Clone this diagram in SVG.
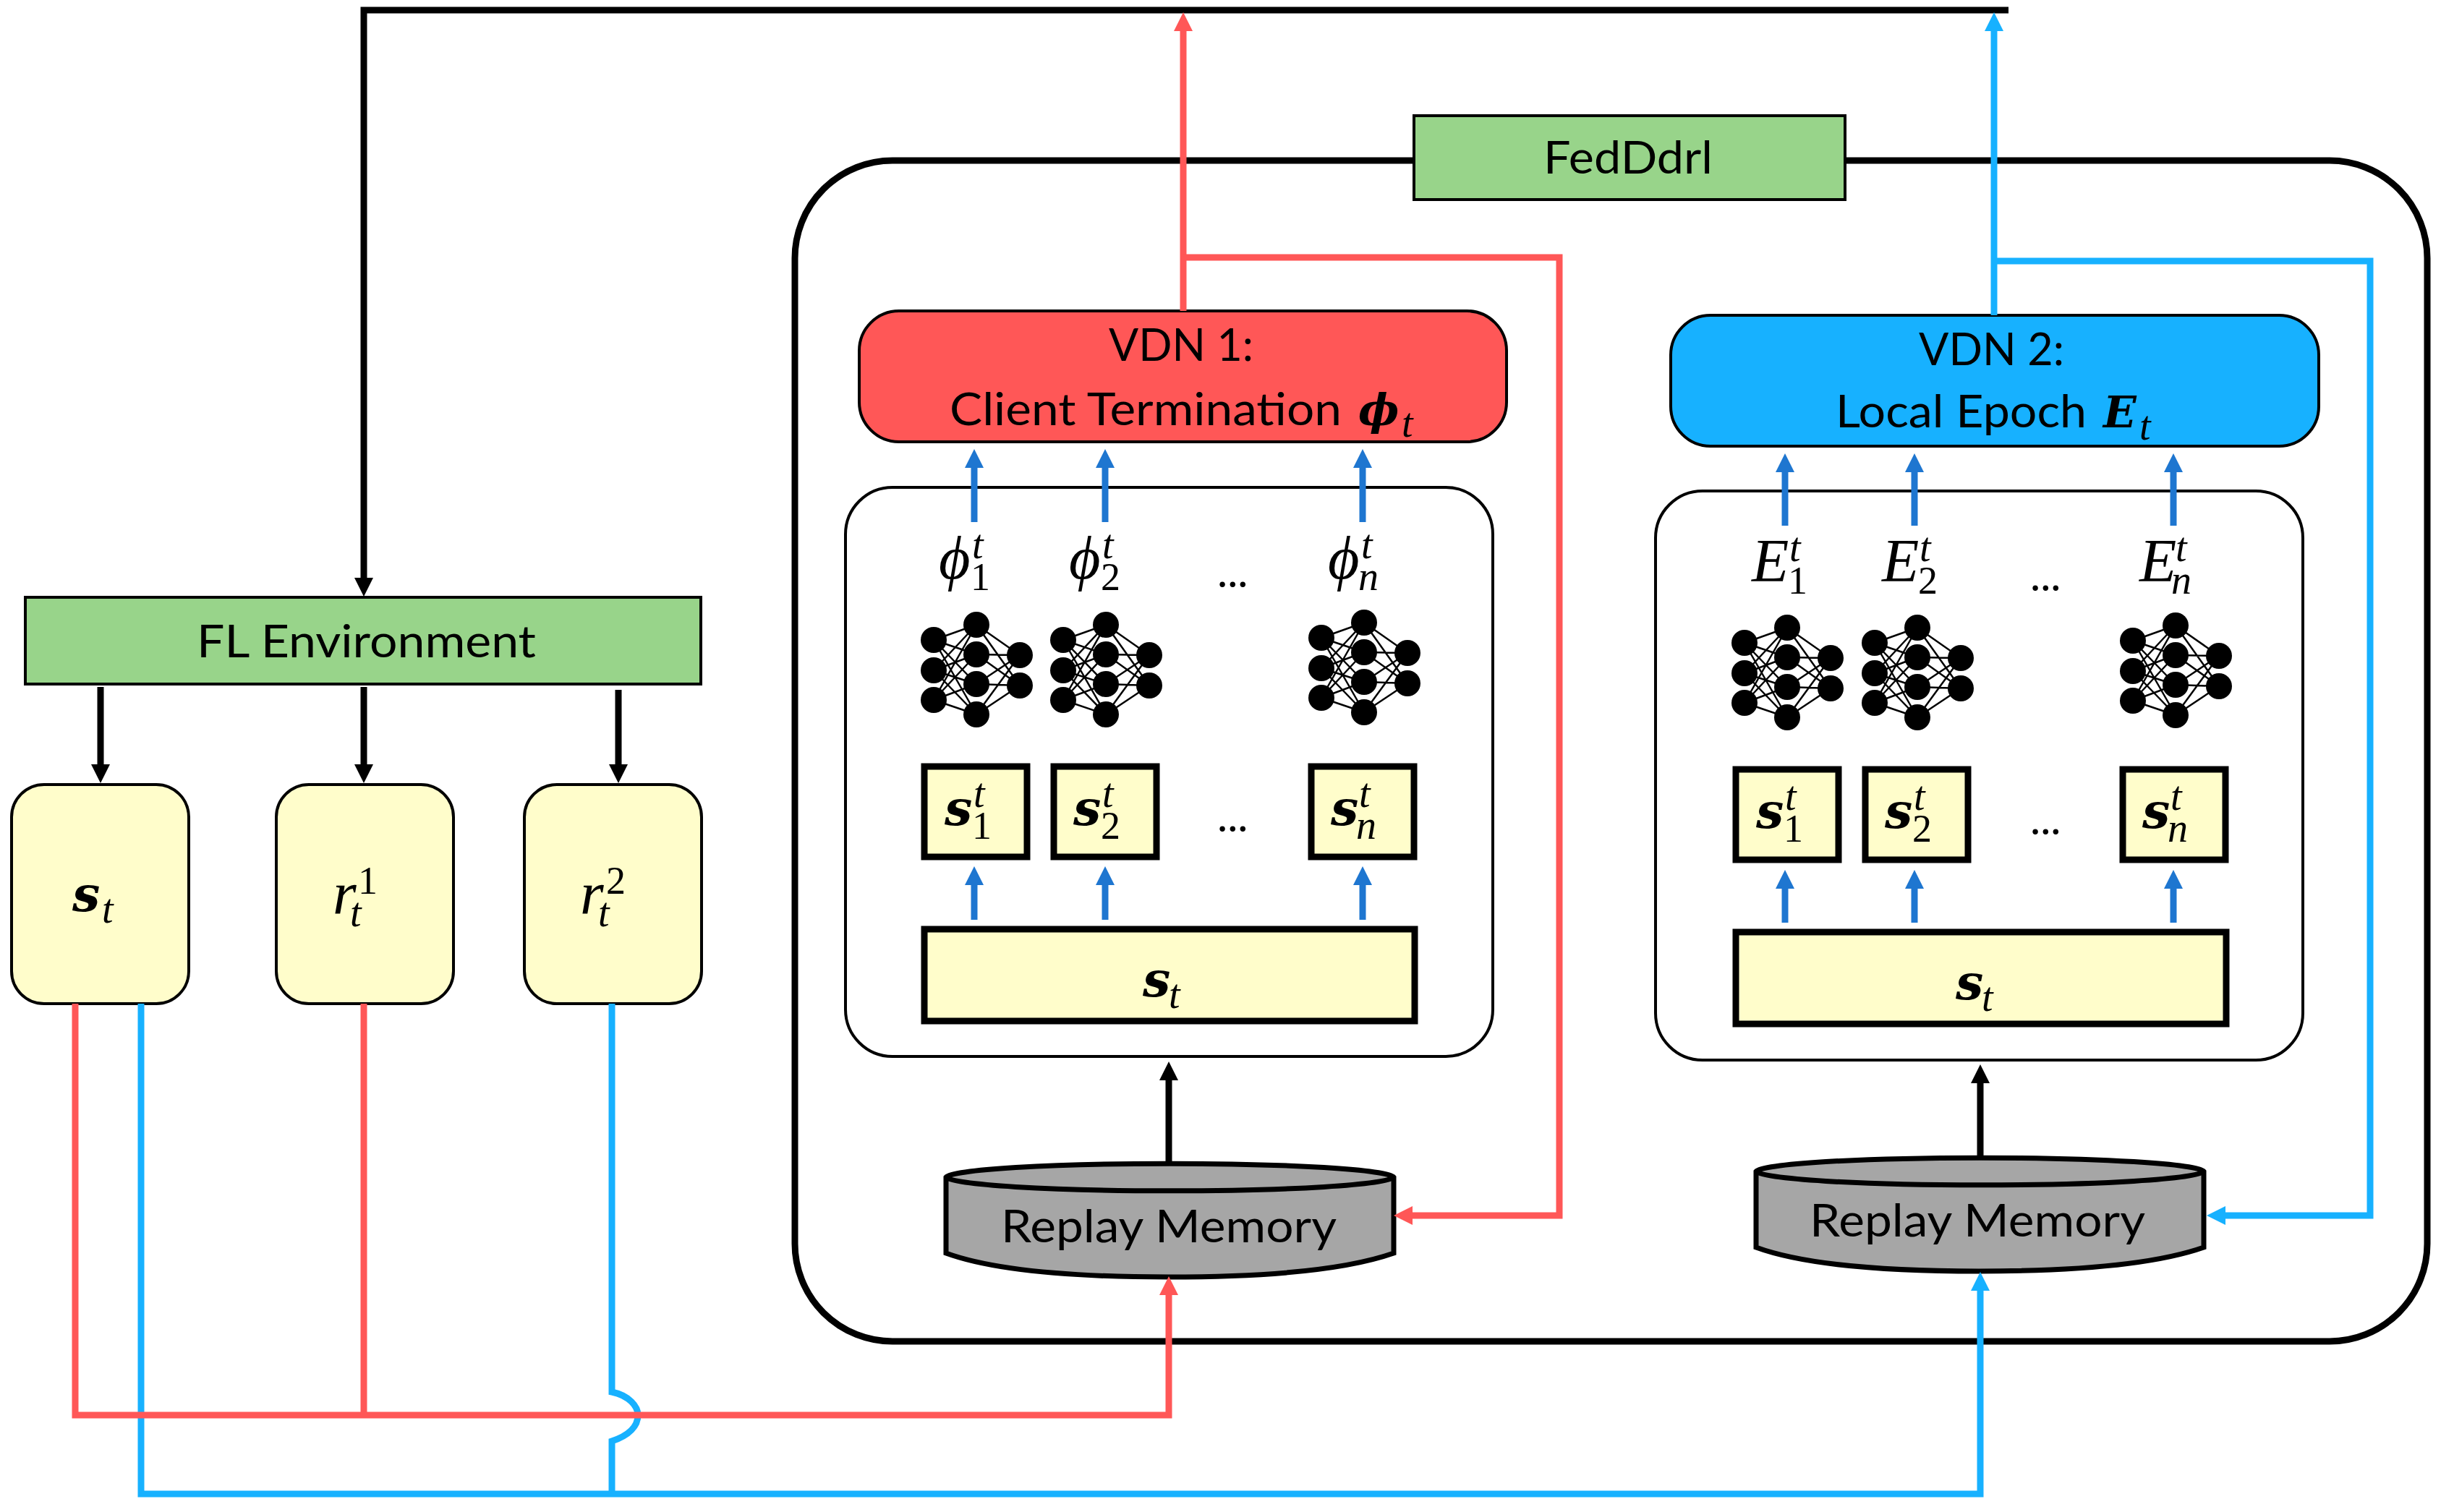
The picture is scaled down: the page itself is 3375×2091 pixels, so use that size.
<svg xmlns="http://www.w3.org/2000/svg" width="3375" height="2091" viewBox="0 0 3375 2091">
<style>
.box{stroke:#000;stroke-width:4}
.green{fill:#98D48A}
.yellow{fill:#FFFDCB}
.thick{fill:#FFFDCB;stroke:#000;stroke-width:9}
.panel{fill:#fff;stroke:#000;stroke-width:4}
.outer{fill:#fff;stroke:#000;stroke-width:9}
.cyl{fill:#A6A6A6;stroke:#000;stroke-width:7}
.lab{font-family:Lato,"Liberation Sans",sans-serif;font-size:62px;fill:#000}
.m{font-family:"Liberation Serif",serif;font-style:italic;font-size:84px;fill:#000}
.b{font-family:"DejaVu Serif",serif;font-style:italic;font-weight:bold;font-size:68px;fill:#000}
.h{font-size:60px}
.sc{font-family:"Liberation Serif",serif;font-style:italic;font-size:56px;fill:#000}
.d{font-family:"Liberation Serif",serif;font-size:54px;fill:#000}
.dots{font-family:Lato,"Liberation Sans",sans-serif;font-size:60px;fill:#000}
.c{fill:none;stroke-width:9}
.k{stroke:#000}.r{stroke:#FF5757}.l{stroke:#17B1FF}.s{stroke:#1E76D0}
.edge{stroke:#000;stroke-width:2.5}
</style>
<defs>
<marker id="ak" markerUnits="userSpaceOnUse" viewBox="0 -14 26 28" refX="1" refY="0" markerWidth="26" markerHeight="28" orient="auto"><path d="M0,-13L26,0L0,13z" fill="#000"/></marker>
<marker id="ar" markerUnits="userSpaceOnUse" viewBox="0 -14 26 28" refX="1" refY="0" markerWidth="26" markerHeight="28" orient="auto"><path d="M0,-13L26,0L0,13z" fill="#FF5757"/></marker>
<marker id="al" markerUnits="userSpaceOnUse" viewBox="0 -14 26 28" refX="1" refY="0" markerWidth="26" markerHeight="28" orient="auto"><path d="M0,-13L26,0L0,13z" fill="#17B1FF"/></marker>
<marker id="as" markerUnits="userSpaceOnUse" viewBox="0 -14 26 28" refX="1" refY="0" markerWidth="26" markerHeight="28" orient="auto"><path d="M0,-13L26,0L0,13z" fill="#1E76D0"/></marker>
<g id="nn">
<path class="edge" d="M0 0L59 -21M0 0L59 20M0 0L59 61M0 0L59 103M0 42L59 -21M0 42L59 20M0 42L59 61M0 42L59 103M0 83L59 -21M0 83L59 20M0 83L59 61M0 83L59 103M59 -21L119 21M59 -21L119 63M59 20L119 21M59 20L119 63M59 61L119 21M59 61L119 63M59 103L119 21M59 103L119 63"/>
<circle cx="0" cy="0" r="18"/><circle cx="0" cy="42" r="18"/><circle cx="0" cy="83" r="18"/>
<circle cx="59" cy="-21" r="18"/><circle cx="59" cy="20" r="18"/><circle cx="59" cy="61" r="18"/><circle cx="59" cy="103" r="18"/>
<circle cx="119" cy="21" r="18"/><circle cx="119" cy="63" r="18"/>
</g>
</defs>
<rect width="3375" height="2091" fill="#fff"/>

<g id="fedddrl-frame">
<rect class="outer" x="1099" y="222" width="2257" height="1633" rx="135" ry="135"/>
</g>
<g id="fedddrl-label">
<rect class="box green" x="1955" y="160" width="596" height="116"/>
<text class="lab" x="2134" y="240" textLength="234" lengthAdjust="spacingAndGlyphs">FedDdrl</text>
</g>

<g id="fl-environment">
<rect class="box green" x="35" y="826" width="934" height="120"/>
<text class="lab" x="272" y="909" textLength="469" lengthAdjust="spacingAndGlyphs">FL Environment</text>
</g>
<g id="state">
<rect class="box yellow" x="16" y="1085" width="245" height="303" rx="45" ry="45"/>
<text class="b" x="100" y="1260">s</text><text class="sc" x="141" y="1276">t</text>
</g>
<g id="reward-1">
<rect class="box yellow" x="382" y="1085" width="245" height="303" rx="45" ry="45"/>
<text class="m" x="460" y="1264">r</text><text class="d" x="495" y="1236">1</text><text class="sc" x="484" y="1281">t</text>
</g>
<g id="reward-2">
<rect class="box yellow" x="725" y="1085" width="245" height="303" rx="45" ry="45"/>
<text class="m" x="802" y="1264">r</text><text class="d" x="838" y="1236">2</text><text class="sc" x="827" y="1281">t</text>
</g>

<g id="vdn-1">
<rect class="box" fill="#FF5757" x="1188" y="430" width="895" height="181" rx="55" ry="55"/>
<text class="lab" x="1533" y="499" textLength="200" lengthAdjust="spacingAndGlyphs">VDN 1:</text>
<text class="lab" x="1313" y="588" textLength="542" lengthAdjust="spacingAndGlyphs">Client Termination</text>
<text class="b h" x="1878" y="588">ϕ</text><text class="sc" x="1938" y="604">t</text>
</g>
<g id="vdn-2">
<rect class="box" fill="#17B1FF" x="2310" y="436" width="896" height="181" rx="55" ry="55"/>
<text class="lab" x="2653" y="505" textLength="201" lengthAdjust="spacingAndGlyphs">VDN 2:</text>
<text class="lab" x="2538" y="591" textLength="347" lengthAdjust="spacingAndGlyphs">Local Epoch</text>
<text class="b h" x="2908" y="591">E</text><text class="sc" x="2958" y="608">t</text>
</g>

<g id="panel-1">
<rect class="panel" x="1169" y="674" width="895" height="787" rx="65" ry="65"/>
<text class="m" x="1298" y="800">ϕ</text><text class="sc" x="1344" y="772">t</text><text class="d" x="1342" y="816">1</text>
<text class="m" x="1478" y="800">ϕ</text><text class="sc" x="1524" y="772">t</text><text class="d" x="1522" y="816">2</text>
<text class="dots" x="1683" y="812">...</text>
<text class="m" x="1836" y="800">ϕ</text><text class="sc" x="1882" y="772">t</text><text class="sc" x="1878" y="816">n</text>
<use href="#nn" x="1291" y="885"/><use href="#nn" x="1470" y="885"/><use href="#nn" x="1827" y="882"/>
</g>
<g id="panel-1-states">
<rect class="thick" x="1278" y="1060" width="142" height="125"/>
<text class="b" x="1306" y="1141">s</text><text class="sc" x="1346" y="1116">t</text><text class="d" x="1344" y="1160">1</text>
<rect class="thick" x="1457" y="1060" width="142" height="125"/>
<text class="b" x="1484" y="1141">s</text><text class="sc" x="1524" y="1116">t</text><text class="d" x="1522" y="1160">2</text>
<rect class="thick" x="1813" y="1060" width="142" height="125"/>
<text class="b" x="1840" y="1141">s</text><text class="sc" x="1879" y="1116">t</text><text class="sc" x="1875" y="1160">n</text>
<text class="dots" x="1683" y="1150">...</text>
<rect class="thick" x="1278" y="1285" width="678" height="127"/>
<text class="b" x="1580" y="1378">s</text><text class="sc" x="1616" y="1394">t</text>
</g>
<g id="replay-memory-1">
<path class="cyl" d="M1308 1628V1733Q1398 1766 1616 1766Q1833 1766 1927 1733V1628A310 20 0 0 0 1308 1628Z"/>
<path class="cyl" d="M1308 1628A310 20 0 0 0 1927 1628"/>
<text class="lab" x="1384" y="1718" textLength="464" lengthAdjust="spacingAndGlyphs">Replay Memory</text>
</g>

<g id="panel-2">
<rect class="panel" x="2289" y="679" width="895" height="787" rx="65" ry="65"/>
<text class="m" x="2422" y="804">E</text><text class="sc" x="2474" y="776">t</text><text class="d" x="2472" y="821">1</text>
<text class="m" x="2602" y="804">E</text><text class="sc" x="2654" y="776">t</text><text class="d" x="2652" y="821">2</text>
<text class="dots" x="2807" y="817">...</text>
<text class="m" x="2958" y="804">E</text><text class="sc" x="3008" y="776">t</text><text class="sc" x="3002" y="821">n</text>
<use href="#nn" x="2412" y="889"/><use href="#nn" x="2592" y="889"/><use href="#nn" x="2949" y="886"/>
</g>
<g id="panel-2-states">
<rect class="thick" x="2400" y="1064" width="142" height="125"/>
<text class="b" x="2428" y="1145">s</text><text class="sc" x="2468" y="1120">t</text><text class="d" x="2466" y="1164">1</text>
<rect class="thick" x="2579" y="1064" width="142" height="125"/>
<text class="b" x="2606" y="1145">s</text><text class="sc" x="2646" y="1120">t</text><text class="d" x="2644" y="1164">2</text>
<rect class="thick" x="2935" y="1064" width="142" height="125"/>
<text class="b" x="2962" y="1145">s</text><text class="sc" x="3001" y="1120">t</text><text class="sc" x="2997" y="1164">n</text>
<text class="dots" x="2807" y="1154">...</text>
<rect class="thick" x="2400" y="1289" width="678" height="127"/>
<text class="b" x="2704" y="1382">s</text><text class="sc" x="2740" y="1398">t</text>
</g>
<g id="replay-memory-2">
<path class="cyl" d="M2428 1620V1725Q2518 1758 2736 1758Q2953 1758 3047 1725V1620A310 20 0 0 0 2428 1620Z"/>
<path class="cyl" d="M2428 1620A310 20 0 0 0 3047 1620"/>
<text class="lab" x="2502" y="1710" textLength="464" lengthAdjust="spacingAndGlyphs">Replay Memory</text>
</g>

<g id="connectors">
<path class="c k" d="M2777 14H503V800" marker-end="url(#ak)"/>
<path class="c k" d="M139 950V1058" marker-end="url(#ak)"/>
<path class="c k" d="M503 950V1058" marker-end="url(#ak)"/>
<path class="c k" d="M855 954V1058" marker-end="url(#ak)"/>
<path class="c k" d="M1616 1610V1493" marker-end="url(#ak)"/>
<path class="c k" d="M2738 1602V1497" marker-end="url(#ak)"/>

<path class="c l" d="M195 1388V2066H2738V1784" marker-end="url(#al)"/>
<path class="c l" d="M846 1388V1925C870 1930 882 1945 882 1957C882 1972 870 1985 846 1993V2066"/>
<path class="c l" d="M2757 436V42" marker-end="url(#al)"/>
<path class="c l" d="M2757 361H3277V1681H3076" marker-end="url(#al)"/>
<path class="c r" d="M104 1388V1957H1616V1790" marker-end="url(#ar)"/>
<path class="c r" d="M503 1388V1957"/>
<path class="c r" d="M1636 430V42" marker-end="url(#ar)"/>
<path class="c r" d="M1636 356H2156V1681H1952" marker-end="url(#ar)"/>

<path class="c s" d="M1347 722V646" marker-end="url(#as)"/>
<path class="c s" d="M1528 722V646" marker-end="url(#as)"/>
<path class="c s" d="M1884 722V646" marker-end="url(#as)"/>
<path class="c s" d="M1347 1272V1223" marker-end="url(#as)"/>
<path class="c s" d="M1528 1272V1223" marker-end="url(#as)"/>
<path class="c s" d="M1884 1272V1223" marker-end="url(#as)"/>
<path class="c s" d="M2468 727V652" marker-end="url(#as)"/>
<path class="c s" d="M2647 727V652" marker-end="url(#as)"/>
<path class="c s" d="M3005 727V652" marker-end="url(#as)"/>
<path class="c s" d="M2468 1276V1228" marker-end="url(#as)"/>
<path class="c s" d="M2647 1276V1228" marker-end="url(#as)"/>
<path class="c s" d="M3005 1276V1228" marker-end="url(#as)"/>
</g>
</svg>
